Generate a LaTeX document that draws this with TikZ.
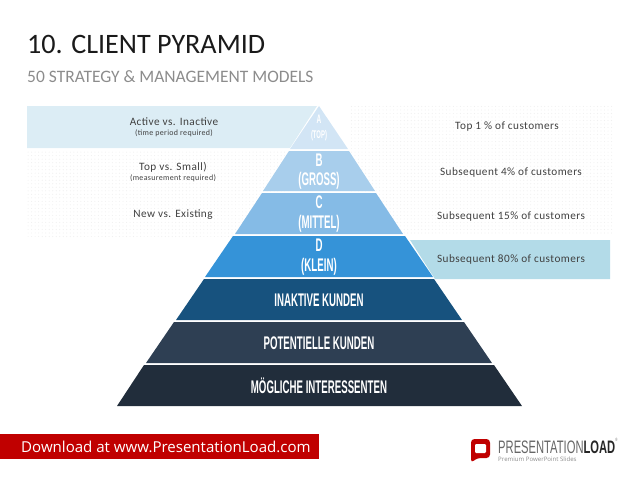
\documentclass[tikz,border=0pt]{standalone}
\usepackage{fontspec}
\setmainfont{Open Sans}
\newfontfamily\bandfont{Carlito}[LetterSpace=4]
\newfontfamily\headfont{Carlito}
\newfontfamily\levelfont{Liberation Sans}[FakeStretch=0.53]
\newfontfamily\logofont{Liberation Sans}[FakeStretch=0.62]
\usepackage{xcolor}
\usetikzlibrary{patterns}

\definecolor{bandblue}{HTML}{DCEDF5}
\definecolor{bandcyan}{HTML}{B3DBE8}
\definecolor{levela}{HTML}{D2E5F5}
\definecolor{levelb}{HTML}{A8CEEC}
\definecolor{levelc}{HTML}{85BBE6}
\definecolor{leveld}{HTML}{3593D8}
\definecolor{levele}{HTML}{17527E}
\definecolor{levelf}{HTML}{2E3F53}
\definecolor{levelg}{HTML}{212D3B}
\definecolor{titlegray}{HTML}{1A1A1A}
\definecolor{subgray}{HTML}{8C8C8C}
\definecolor{loadred}{HTML}{C00000}

\tikzset{
    bandtext/.style={font=\bandfont\fontsize{9.6}{12}\selectfont, text=black!75, align=center, inner sep=0pt},
    notetext/.style={font=\bandfont\fontsize{6.8}{8}\selectfont, text=black!75, align=center, inner sep=0pt},
    leveltext/.style={font=\levelfont\bfseries\fontsize{15.6}{18}\selectfont, text=white, inner sep=0pt},
    dotfield/.style={pattern=dots, pattern color=black!6, draw=none}
}

\begin{document}
\begin{tikzpicture}[x=0.3mm,y=-0.3mm]
    \useasboundingbox (0,0) rectangle (638,479);

    % Dotted fields
    \fill[dotfield] (27,150) rectangle (288,238);
    \fill[dotfield] (350,105) rectangle (612,233);

    % Side bands
    \fill[bandblue] (27,106) -- (317,106) -- (290,148) -- (27,148) -- cycle;
    \fill[bandcyan] (410,240) -- (610,240) -- (610,279) -- (435,279) -- cycle;

    % Pyramid
    \fill[levela] (319,106) -- (348,149) -- (290,149) -- cycle;
    \fill[levelb] (289,151) -- (349,151) -- (375,191) -- (263,191) -- cycle;
    \fill[levelc] (262,193) -- (376,193) -- (403,234) -- (235,234) -- cycle;
    \fill[leveld] (233,236) -- (405,236) -- (433,277) -- (205,277) -- cycle;
    \fill[levele] (204,279) -- (434,279) -- (462,320) -- (176,320) -- cycle;
    \fill[levelf] (174,322) -- (464,322) -- (492,363) -- (146,363) -- cycle;
    \fill[levelg] (144,365) -- (494,365) -- (522,406) -- (117,406) -- cycle;

    % Level labels
    \node[leveltext, font=\levelfont\bfseries\fontsize{10.5}{12}\selectfont] (la) at (319,119) {A};
    \node[leveltext, font=\levelfont\bfseries\fontsize{9.5}{11}\selectfont] (lax) at (319,136) {(TOP)};
    \node[leveltext] (lb) at (319,160) {B};
    \node[leveltext] (lbx) at (319,181) {(GROSS)};
    \node[leveltext] (lc) at (319,202) {C};
    \node[leveltext] (lcx) at (319,224) {(MITTEL)};
    \node[leveltext] (ld) at (319,245) {D};
    \node[leveltext] (ldx) at (319,267) {(KLEIN)};
    \node[leveltext] (le) at (319,300) {INAKTIVE KUNDEN};
    \node[leveltext] (lf) at (319,343) {POTENTIELLE KUNDEN};
    \node[leveltext] (lg) at (319,386) {MÖGLICHE INTERESSENTEN};

    % Left texts
    \node[bandtext] (active) at (174,122) {Active vs. Inactive};
    \node[notetext] (activex) at (174,133) {(time period required)};
    \node[bandtext] (topsmall) at (173,167) {Top vs. Small)};
    \node[notetext] (topsmallx) at (173,178) {(measurement required)};
    \node[bandtext] (newex) at (173,215) {New vs. Existing};

    % Right texts
    \node[bandtext] (one) at (507,127) {Top 1 \% of customers};
    \node[bandtext] (four) at (511,172) {Subsequent 4\% of customers};
    \node[bandtext] (fifteen) at (511,216) {Subsequent 15\% of customers};
    \node[bandtext] (eighty) at (511,259) {Subsequent 80\% of customers};

    % Title
    \node[anchor=west, inner sep=0pt, text=titlegray, font=\headfont\fontsize{24}{26}\selectfont] (title) at (27,44) {10. CLIENT PYRAMID};
    \node[anchor=west, inner sep=0pt, text=subgray, font=\headfont\fontsize{14.9}{17}\selectfont] (subtitle) at (27,77) {50 STRATEGY \& MANAGEMENT MODELS};

    % Footer
    \fill[loadred] (0,434) rectangle (319,459);
    \node[anchor=west, inner sep=0pt, text=white, font=\fontsize{12.85}{15}\selectfont] (download) at (21,447) {Download at www.PresentationLoad.com};

    % Logo
    \fill[loadred, rounded corners=3] (471,439) -- (490,439) -- (490,458) -- (477,458) -- (471,463) -- cycle;
    \fill[white, rounded corners=1] (475,444) rectangle (486,453);
    \node[anchor=west, inner sep=0pt, text=black!60, font=\logofont\fontsize{15.4}{16}\selectfont] (logo) at (498,446) {PRESENTATION\textcolor{black!85}{\textbf{LOAD}}\raisebox{1.2ex}{\fontsize{4}{4}\selectfont ®}};
    \node[anchor=west, inner sep=0pt, text=subgray, font=\fontsize{5.2}{6}\selectfont] (tagline) at (498,459) {Premium PowerPoint Slides};
\end{tikzpicture}
\end{document}
